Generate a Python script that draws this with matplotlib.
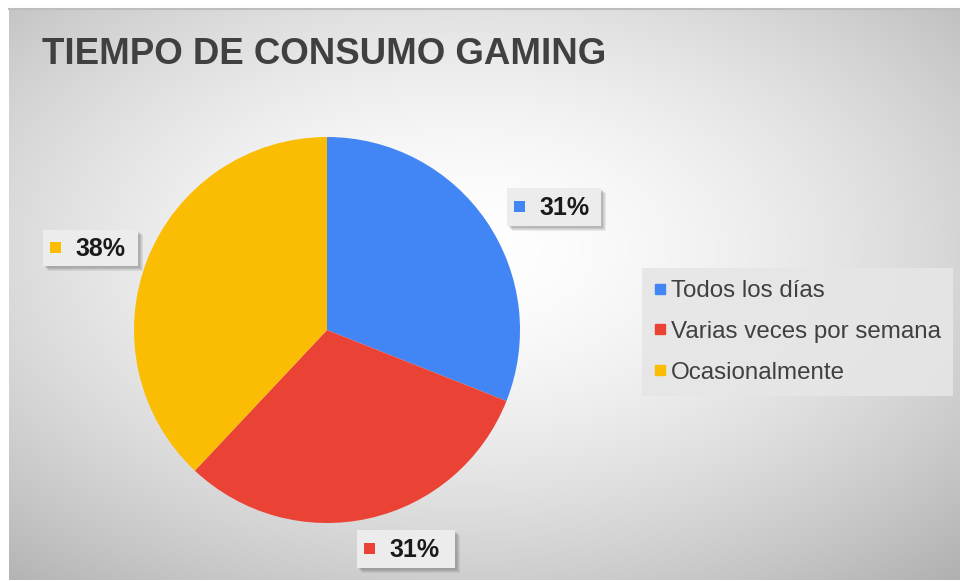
import numpy as np
import matplotlib
matplotlib.use("Agg")
import matplotlib.pyplot as plt
from matplotlib.patches import Rectangle
from matplotlib.lines import Line2D

plt.rcParams['font.family'] = ['Liberation Sans', 'DejaVu Sans']

# data
categories = ["Todos los días", "Varias veces por semana", "Ocasionalmente"]
shares = [31, 31, 38]
colors = ["#4285F4", "#EA4335", "#FBBC04"]
title = "TIEMPO DE CONSUMO GAMING"

W, H = 960, 581
fig = plt.figure(figsize=(W / 100, H / 100), dpi=100)
fig.patch.set_facecolor("white")

# radial grey background of the chart area
x0, y0, x1, y1 = 9, 9, 960, 580
bg = fig.add_axes([x0 / W, 1 - y1 / H, (x1 - x0) / W, (y1 - y0) / H])
yy, xx = np.mgrid[0:y1 - y0, 0:x1 - x0]
cx, cy = (x1 - x0) * 0.48, (y1 - y0) * 0.42
d = np.sqrt(((xx - cx) / (x1 - x0) * 2) ** 2 + ((yy - cy) / (y1 - y0) * 2) ** 2) / np.sqrt(2)
d = np.clip(d, 0, 1.2)
val = 255 - 68 * d ** 1.6
img = np.dstack([val, val, val]) / 255.0
bg.imshow(np.clip(img, 0, 1), aspect="auto", interpolation="bilinear")
bg.set_axis_off()

# pie
cxp, cyp, r = 327, 330, 193
ax = fig.add_axes([(cxp - r) / W, 1 - (cyp + r) / H, 2 * r / W, 2 * r / H])
wedges, _ = ax.pie(shares, colors=colors, startangle=90, counterclock=False,
                   radius=1.0, wedgeprops=dict(linewidth=0))
ax.set_xlim(-1, 1)
ax.set_ylim(-1, 1)
ax.set_aspect("equal")
ax.set_axis_off()

# overlay in pixel coordinates for labels
ov = fig.add_axes([0, 0, 1, 1])
ov.set_xlim(0, W)
ov.set_ylim(H, 0)
ov.set_axis_off()

# thin top rim of the chart area
ov.plot([x0, x1], [y0, y0], color="#bdbdbd", linewidth=1.5, zorder=1)

ov.text(42, 55, title, fontsize=26.4, fontweight="bold", color="#404040",
        va="center", ha="left")

# label box positions (left, top, width, height) in pixels
label_boxes = [(507, 188, 94, 38), (357, 530, 98, 38), (43, 230, 95, 36)]


def data_label(box, color, text):
    bx, by, bw, bh = box
    # soft drop shadow
    for k, a in enumerate([0.10, 0.10, 0.12, 0.14]):
        off = 5 - k
        ov.add_patch(Rectangle((bx + off, by + off), bw, bh, facecolor="#555555",
                               alpha=a, edgecolor="none", zorder=2))
    ov.add_patch(Rectangle((bx, by), bw, bh, facecolor="#ececec",
                           edgecolor="none", zorder=3))
    ov.add_patch(Rectangle((bx + 7, by + bh / 2 - 6), 11, 11, facecolor=color,
                           edgecolor="none", zorder=4))
    ov.text(bx + 32, by + bh / 2 + 1, text, fontsize=18, fontweight="bold",
            color="#1a1a1a", va="center", ha="left", zorder=5)


for box, c, s in zip(label_boxes, colors, shares):
    data_label(box, c, f"{s}%")

# legend
handles = [Line2D([0], [0], marker="s", linestyle="", markersize=7,
                  markerfacecolor=c, markeredgecolor=c) for c in colors]
leg = fig.legend(handles, categories, loc="upper left",
                 bbox_to_anchor=(642 / W, 1 - 268 / H), frameon=True,
                 fontsize=17.4, handlelength=0.5, handletextpad=0.2,
                 labelspacing=0.78, borderpad=0.5, borderaxespad=0,
                 fancybox=False, labelcolor="#404040")
leg.get_frame().set_facecolor("#e6e6e6")
leg.get_frame().set_edgecolor("none")
leg.get_frame().set_alpha(0.9)

fig.savefig("out.png", dpi=100)
